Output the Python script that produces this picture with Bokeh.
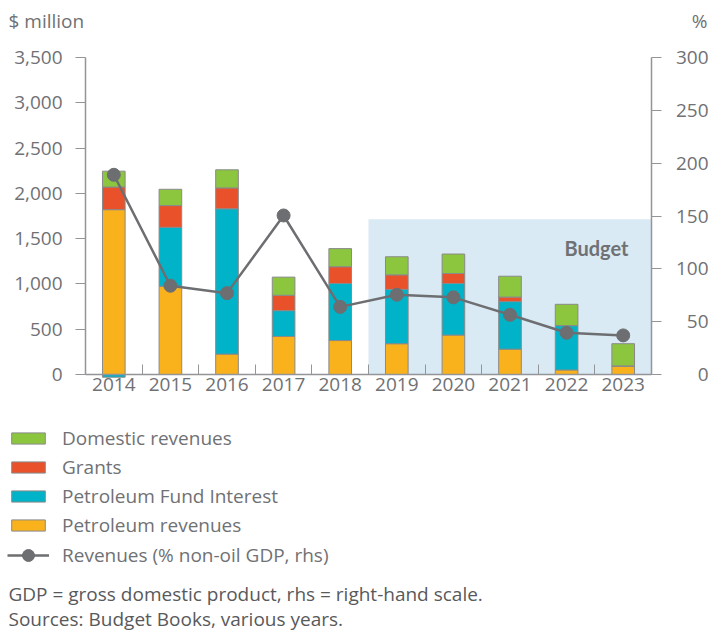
import numpy as np
from bokeh.plotting import figure
from bokeh.models import (Range1d, LinearAxis, FixedTicker, NumeralTickFormatter,
                          BoxAnnotation, Label, LabelSet, ColumnDataSource, Legend, LegendItem)
from bokeh.core.properties import value
from bokeh.embed import file_html
from bokeh.resources import INLINE

# ---------------- data ----------------
years = ["2014", "2015", "2016", "2017", "2018", "2019", "2020", "2021", "2022", "2023"]
petroleum_revenues = [1820, 975, 225, 420, 375, 340, 435, 280, 50, 95]
petroleum_fund_interest = [-30, 650, 1605, 285, 630, 600, 570, 525, 490, 0]
grants = [250, 240, 230, 170, 185, 160, 110, 50, 0, 0]
domestic_revenues = [175, 180, 200, 200, 200, 200, 215, 230, 235, 245]
revenues_pct_nonoil_gdp = [189, 84, 77, 150.5, 64, 75.5, 73, 56.5, 39.5, 37]
left_ticks = [0, 500, 1000, 1500, 2000, 2500, 3000, 3500]
right_ticks = [0, 50, 100, 150, 200, 250, 300]
budget_from_year = "2019"
budget_top = 1715

# ---------------- style / layout ----------------
FONT = "Open Sans"
FS = "19px"
TXT = "#707174"
NOTE = "#58595b"
AX = "#939598"
C_DOM = "#8cc63f"
C_GRA = "#e9512b"
C_PFI = "#00b3c8"
C_PR = "#f9b21b"
C_LINE = "#6d6e71"

W, H = 710, 633
PX_LEFT, PX_RIGHT, PX_TOP, PX_ZERO = 85, 651, 57, 374

n = len(years)
xc = [i + 0.5 for i in range(n)]

kx = (PX_RIGHT - PX_LEFT) / n
ky = (PX_ZERO - PX_TOP) / left_ticks[-1]
ky2 = (PX_ZERO - PX_TOP) / right_ticks[-1]

p = figure(width=W, height=H, output_backend="svg", toolbar_location=None,
           x_range=Range1d(-PX_LEFT / kx, (W - PX_LEFT) / kx),
           y_range=Range1d(-(H - PX_ZERO) / ky, PX_ZERO / ky),
           min_border=0)
p.extra_y_ranges = {"pct": Range1d(-(H - PX_ZERO) / ky2, PX_ZERO / ky2)}
p.xgrid.visible = False
p.ygrid.visible = False
p.outline_line_color = None

# budget shading
b0 = years.index(budget_from_year)
p.add_layout(BoxAnnotation(left=b0, right=n, bottom=0, top=budget_top,
                           fill_color="#d9eaf4", fill_alpha=1.0, line_color=None, level="underlay"))

# stacked bars
series = [("Petroleum revenues", petroleum_revenues, C_PR),
          ("Petroleum Fund Interest", petroleum_fund_interest, C_PFI),
          ("Grants", grants, C_GRA),
          ("Domestic revenues", domestic_revenues, C_DOM)]
pos = np.zeros(n)
neg = np.zeros(n)
bar_renderers = {}
for name, vals, color in series:
    v = np.array(vals, dtype=float)
    bottom = np.where(v >= 0, pos, neg)
    top = bottom + v
    pos = np.where(v >= 0, top, pos)
    neg = np.where(v < 0, top, neg)
    src = ColumnDataSource(dict(x=xc, bottom=bottom, top=top))
    r = p.vbar(x="x", bottom="bottom", top="top", width=0.4, source=src,
               fill_color=color, line_color="#8a8a8a", line_width=1)
    bar_renderers[name] = r

# line on right axis
lsrc = ColumnDataSource(dict(x=xc, y=revenues_pct_nonoil_gdp))
lr = p.line("x", "y", source=lsrc, y_range_name="pct", line_color=C_LINE, line_width=2.5)
sr = p.scatter("x", "y", source=lsrc, y_range_name="pct", size=13,
               fill_color=C_LINE, line_color=C_LINE)

# x axis
xa = p.xaxis[0]
xa.fixed_location = 0
xa.bounds = (0, n)
xa.ticker = FixedTicker(ticks=xc, minor_ticks=list(range(n + 1)))
xa.major_label_overrides = {x: y for x, y in zip(xc, years)}
xa.major_tick_in = 0
xa.major_tick_out = 0
xa.minor_tick_in = 10
xa.minor_tick_out = 0
xa.minor_tick_line_color = AX
xa.axis_line_color = AX
xa.axis_line_width = 1.5
xa.major_label_standoff = 3
xa.major_label_text_font = FONT
xa.major_label_text_font_size = FS
xa.major_label_text_color = TXT

# left axis
ya = p.yaxis[0]
ya.fixed_location = 0
ya.bounds = (left_ticks[0], left_ticks[-1])
ya.ticker = FixedTicker(ticks=left_ticks)
ya.formatter = NumeralTickFormatter(format="0,0")
ya.major_tick_in = 0
ya.major_tick_out = 10
ya.minor_tick_line_color = None
ya.major_tick_line_color = AX
ya.axis_line_color = AX
ya.axis_line_width = 1.5
ya.major_label_standoff = 13
ya.major_label_text_font = FONT
ya.major_label_text_font_size = FS
ya.major_label_text_color = TXT

# right axis (tick labels drawn right-aligned as a label set)
ra = LinearAxis(y_range_name="pct", ticker=FixedTicker(ticks=right_ticks),
                fixed_location=n, bounds=(right_ticks[0], right_ticks[-1]))
ra.major_tick_in = 0
ra.major_tick_out = 10
ra.minor_tick_line_color = None
ra.major_tick_line_color = AX
ra.axis_line_color = AX
ra.axis_line_width = 1.5
ra.major_label_text_color = None
ra.major_label_text_font_size = FS
p.add_layout(ra, "right")

rsrc = ColumnDataSource(dict(v=right_ticks, t=[str(t) for t in right_ticks]))
p.add_layout(LabelSet(x=708, y="v", text="t", source=rsrc, x_units="screen",
                      y_range_name="pct", text_align="right", text_baseline="middle",
                      text_font=value(FONT), text_font_size=FS, text_color=TXT))

# unit labels
p.add_layout(Label(x=8, y=H - 20, x_units="screen", y_units="screen", text="$ million",
                   text_align="left", text_baseline="middle", text_font=FONT,
                   text_font_size=FS, text_color=TXT))
p.add_layout(Label(x=707, y=H - 20, x_units="screen", y_units="screen", text="%",
                   text_align="right", text_baseline="middle", text_font=FONT,
                   text_font_size=FS, text_color=TXT))

# Budget label
p.add_layout(Label(x=n, y=1402, x_offset=-23, text="Budget", text_align="right",
                   text_baseline="middle", text_font="Lato", text_font_style="bold",
                   text_font_size="20px", text_color=TXT))

# legends (bars; line item separately so its marker is full size)
common = dict(orientation="vertical", glyph_width=42, label_standoff=13, padding=0,
              margin=0, label_text_font=FONT, label_text_font_size=FS,
              label_text_color=TXT, background_fill_alpha=0, border_line_alpha=0)
items = [LegendItem(label="Domestic revenues", renderers=[bar_renderers["Domestic revenues"]]),
         LegendItem(label="Grants", renderers=[bar_renderers["Grants"]]),
         LegendItem(label="Petroleum Fund Interest", renderers=[bar_renderers["Petroleum Fund Interest"]]),
         LegendItem(label="Petroleum revenues", renderers=[bar_renderers["Petroleum revenues"]])]
leg = Legend(items=items, location=(7, 95), glyph_height=14, spacing=3, label_height=22, **common)
p.add_layout(leg)
leg2 = Legend(items=[LegendItem(label="Revenues (% non-oil GDP, rhs)", renderers=[lr, sr])],
              location=(7, 63), glyph_height=30, spacing=0, label_height=22, **common)
p.add_layout(leg2)

# notes
p.add_layout(Label(x=8, y=H - 593, x_units="screen", y_units="screen",
                   text="GDP = gross domestic product, rhs = right-hand scale.",
                   text_align="left", text_baseline="middle", text_font=FONT,
                   text_font_size=FS, text_color=NOTE))
p.add_layout(Label(x=8, y=H - 618, x_units="screen", y_units="screen",
                   text="Sources: Budget Books, various years.",
                   text_align="left", text_baseline="middle", text_font=FONT,
                   text_font_size=FS, text_color=NOTE))

open("out.html", "w").write(file_html(p, INLINE))
